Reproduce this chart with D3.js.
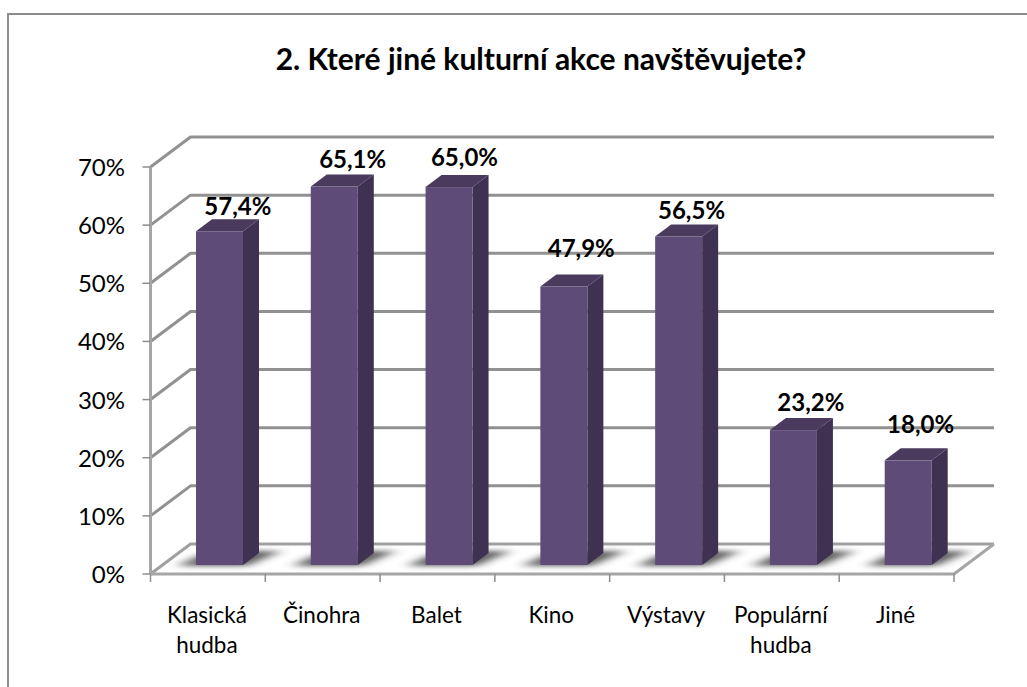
<!DOCTYPE html>
<html><head><meta charset="utf-8">
<script src="https://cdn.jsdelivr.net/npm/d3@7"></script>
<style>html,body{margin:0;background:#fff}svg{display:block}text{font-family:Lato,"Open Sans",sans-serif;fill:#000}</style>
</head><body><svg id="c" width="1027" height="687"></svg>
<script>
const title = "2. Které jiné kulturní akce navštěvujete?";
const categories = ["Klasická hudba","Činohra","Balet","Kino","Výstavy","Populární hudba","Jiné"];
const values = [57.4,65.1,65.0,47.9,56.5,23.2,18.0];
const valueLabels = ["57,4%","65,1%","65,0%","47,9%","56,5%","23,2%","18,0%"];
const ticks = [0,10,20,30,40,50,60,70];
// hand-placed data label offsets (from the band centre / bar top)
const labelNudgeX = [30,30,27,29,24.5,29,24];
const labelNudgeY = [-16,-18,-21,-29,-17,-19,-27];

const svg = d3.select("#c");
const W=1027,H=687;
const x = d3.scaleBand().domain(categories).range([150.5,954]).paddingInner(0).paddingOuter(0);
const y = d3.scaleLinear().domain([0,70]).range([574,167]);
const grey="#8c8c8c";
const DX=40,DY=-30;

const defs=svg.append("defs");
defs.append("filter").attr("id","blur").attr("x","-40%").attr("y","-100%").attr("width","180%").attr("height","300%")
  .append("feGaussianBlur").attr("stdDeviation","7 2.5");

// frame
svg.append("path").attr("d",`M8,${H}V14H${W}`).attr("fill","none").attr("stroke",grey).attr("stroke-width",2);

// title
svg.append("text").attr("x",541).attr("y",70).attr("text-anchor","middle").attr("font-size",30).attr("font-weight",700).text(title);

// gridlines
const grid=svg.append("g").attr("fill","none").attr("stroke",grey).attr("stroke-linejoin","round");
ticks.forEach(t=>{
  grid.append("path").attr("stroke-width",3).attr("stroke",t===0?"#a0a0a0":"#919191")
    .attr("d",`M${x.range()[0]},${y(t)}L${x.range()[0]+DX},${y(t)+DY}H${x.range()[1]+DX}`);
});
// floor and axes
grid.append("path").attr("stroke-width",3).attr("stroke","#a6a6a6")
  .attr("d",`M${x.range()[0]},${y(0)}H${x.range()[1]}L${x.range()[1]+DX},${y(0)+DY}`);
grid.append("path").attr("stroke-width",3).attr("stroke","#a6a6a6")
  .attr("d",`M${x.range()[0]},${y(70)}V${y(0)}`);
ticks.forEach(t=>{
  grid.append("line").attr("stroke-width",1.5).attr("stroke","#8c8c8c").attr("x1",x.range()[0]-8).attr("x2",x.range()[0]).attr("y1",y(t)).attr("y2",y(t));
});
categories.forEach(c=>{
  grid.append("line").attr("stroke-width",1.5).attr("x1",x(c)).attr("x2",x(c)).attr("y1",y(0)).attr("y2",y(0)+8);
});
grid.append("line").attr("stroke-width",1.5).attr("x1",x.range()[1]).attr("x2",x.range()[1]).attr("y1",y(0)).attr("y2",y(0)+8);

// y tick labels
svg.append("g").selectAll("text").data(ticks).join("text")
  .attr("x",125).attr("y",d=>y(d)+9).attr("text-anchor","end").attr("font-size",24).text(d=>d+"%");

// bars
const BW=47,BDX=16,BDY=-12,BASE=565;
const unit=(y(0)-y(70))/70;
const g=svg.append("g");
categories.forEach((c,i)=>{
  const L=x(c)+45.5,R=L+BW,B=BASE,T=BASE-values[i]*unit;
  g.append("path").attr("filter","url(#blur)").attr("fill","#444").attr("opacity",.85)
    .attr("d",`M${L-18},${B+1}H${R+4}L${R+38},${B-14}H${R+8}L${L+4},${B-10}Z`);
  g.append("path").attr("fill","#3f3152").attr("d",`M${R},${B}L${R+BDX},${B+BDY}V${T+BDY}L${R},${T}Z`);
  g.append("path").attr("fill","#493a5e").attr("d",`M${L},${T}L${L+BDX},${T+BDY}H${R+BDX}L${R},${T}Z`);
  g.append("rect").attr("fill","#5f4b78").attr("x",L).attr("y",T).attr("width",BW).attr("height",B-T);
});

// value labels
svg.append("g").selectAll("text").data(categories).join("text")
  .attr("x",(c,i)=>x(c)+x.bandwidth()/2+labelNudgeX[i])
  .attr("y",(c,i)=>BASE-values[i]*unit+labelNudgeY[i])
  .attr("text-anchor","middle").attr("font-size",24).attr("font-weight",700)
  .text((c,i)=>valueLabels[i]);

// category labels
const cat=svg.append("g");
categories.forEach(c=>{
  const parts=c.split(" ");
  const t=cat.append("text").attr("text-anchor","middle").attr("font-size",22.5);
  parts.forEach((p,j)=>t.append("tspan").attr("x",x(c)+x.bandwidth()/2-1).attr("y",623+j*30).text(p));
});
</script></body></html>
